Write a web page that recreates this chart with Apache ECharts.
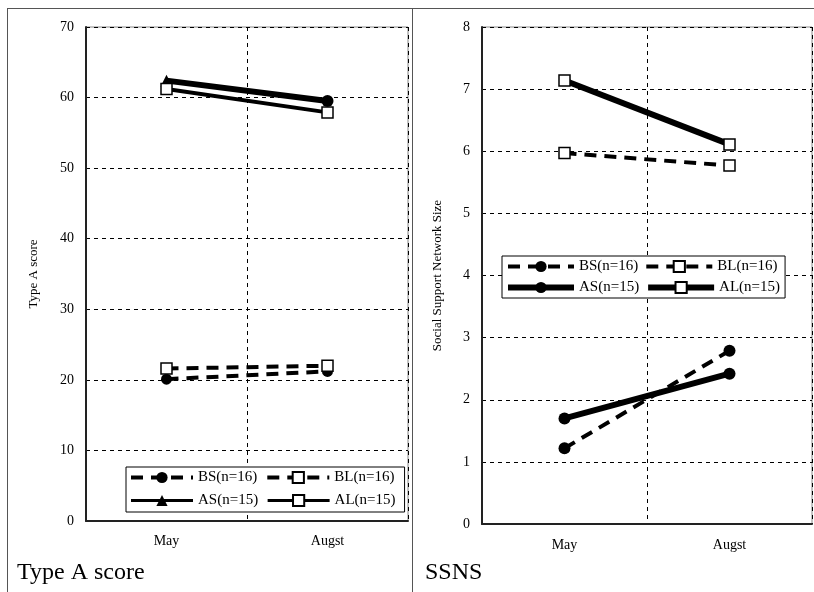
<!DOCTYPE html>
<html>
<head>
<meta charset="utf-8">
<script src="https://cdn.jsdelivr.net/npm/echarts@6/dist/echarts.min.js"></script>
<style>
  html, body { margin: 0; padding: 0; background: #fff; }
  #wrap { position: relative; width: 814px; height: 592px; overflow: hidden; }
  #left { position: absolute; left: 0; top: 0; width: 412px; height: 592px; }
  #right { position: absolute; left: 412px; top: 0; width: 402px; height: 592px; }
  .frame { position: absolute; pointer-events: none; border-color: #555; border-style: solid; border-width: 0; }
</style>
</head>
<body>
<div id="wrap">
  <div id="left"></div>
  <div id="right"></div>
  <div class="frame" style="left:7px; top:8px; width:807px; height:590px; border-left-width:1px; border-top-width:1px;"></div>
  <div class="frame" style="left:412px; top:8px; width:0; height:590px; border-left-width:1px;"></div>
</div>
<script>
// Measurement months
const months = ['May', 'Augst'];

// Type A score means per group
const typeA_BS = [20.1, 21.2];
const typeA_BL = [21.6, 22.0];
const typeA_AS = [62.4, 59.5];
const typeA_AL = [61.2, 57.9];

// Social Support Network Size means per group
const ssns_BS = [1.22, 2.79];
const ssns_BL = [5.97, 5.77];
const ssns_AS = [1.70, 2.42];
const ssns_AL = [7.14, 6.11];

const groupNames = ['BS(n=16)', 'BL(n=16)', 'AS(n=15)', 'AL(n=15)'];

const FONT = '"Liberation Serif", "DejaVu Serif", serif';
const gridDash = [4, 4];

function makeSeries(name, data, opts) {
  return {
    name: name,
    type: 'line',
    data: data,
    symbol: opts.symbol,
    symbolSize: opts.symbolSize,
    showSymbol: true,
    z: opts.z || 3,
    animation: false,
    lineStyle: { color: '#000', width: opts.width, type: opts.dash ? [12, 8] : 'solid' },
    itemStyle: opts.hollow
      ? { color: '#fff', borderColor: '#000', borderWidth: 1.5 }
      : { color: '#000', borderColor: '#000', borderWidth: 0 },
    emphasis: { disabled: true }
  };
}

function baseOption(cfg) {
  return {
    animation: false,
    textStyle: { fontFamily: FONT, color: '#000' },
    title: {
      text: cfg.title,
      left: cfg.titleLeft,
      top: 556,
      textStyle: { fontFamily: FONT, fontSize: 24, fontWeight: 'normal', color: '#000' }
    },
    grid: {
      left: cfg.grid[0], top: cfg.grid[1], right: cfg.grid[2], bottom: cfg.grid[3],
      show: true, borderColor: '#888', borderWidth: 1, backgroundColor: '#fff'
    },
    legend: {
      data: cfg.legend.data,
      left: cfg.legend.left,
      top: cfg.legend.top,
      width: cfg.legend.width,
      orient: 'horizontal',
      itemWidth: cfg.legend.itemWidth,
      itemHeight: 14,
      itemGap: cfg.legend.itemGap,
      padding: cfg.legend.padding,
      borderColor: '#000',
      borderWidth: 1,
      backgroundColor: '#fff',
      selectedMode: false,
      lineStyle: { width: 'inherit', type: 'inherit' },
      textStyle: { fontFamily: FONT, fontSize: 15, color: '#000' }
    },
    xAxis: {
      type: 'category',
      data: months,
      boundaryGap: true,
      axisLine: { lineStyle: { color: '#222', width: 2 } },
      axisTick: { show: false },
      axisLabel: { fontFamily: FONT, fontSize: 14, color: '#000', margin: cfg.xMargin },
      splitLine: { show: true, lineStyle: { color: '#000', type: gridDash, width: 1 } }
    },
    yAxis: {
      type: 'value',
      min: 0,
      max: cfg.yMax,
      interval: cfg.yInterval,
      name: cfg.yName,
      nameLocation: 'middle',
      nameGap: cfg.nameGap,
      nameTextStyle: { fontFamily: FONT, fontSize: 13, color: '#000' },
      axisLine: { show: true, lineStyle: { color: '#222', width: 2 } },
      axisTick: { show: false },
      axisLabel: { fontFamily: FONT, fontSize: 14, color: '#000', margin: 12 },
      splitLine: { show: true, lineStyle: { color: '#000', type: gridDash, width: 1 } }
    },
    series: cfg.series
  };
}

// Left panel: Type A score
const leftChart = echarts.init(document.getElementById('left'), null, { renderer: 'canvas' });
leftChart.setOption(baseOption({
  title: 'Type A score',
  titleLeft: 12,
  grid: [86, 27, 4, 71],
  yMax: 70, yInterval: 10,
  yName: 'Type A score', nameGap: 46,
  xMargin: 13,
  legend: {
    left: 126, top: 467, width: 300, itemWidth: 62, itemGap: 8, padding: [3, 9, 4, 3],
    data: [
      { name: groupNames[0] },
      { name: groupNames[1] },
      { name: groupNames[2], lineStyle: { width: 3 } },
      { name: groupNames[3], lineStyle: { width: 3 } }
    ]
  },
  series: [
    makeSeries(groupNames[0], typeA_BS, { symbol: 'circle', symbolSize: 11, width: 4, dash: true }),
    makeSeries(groupNames[1], typeA_BL, { symbol: 'rect', symbolSize: 11, width: 4, dash: true, hollow: true, z: 4 }),
    makeSeries(groupNames[2], [typeA_AS[0], { value: typeA_AS[1], symbol: 'circle' }], { symbol: 'triangle', symbolSize: 12, width: 6 }),
    makeSeries(groupNames[3], typeA_AL, { symbol: 'rect', symbolSize: 11, width: 4, hollow: true, z: 4 })
  ]
}));

// Right panel: SSNS
const rightChart = echarts.init(document.getElementById('right'), null, { renderer: 'canvas' });
rightChart.setOption(baseOption({
  title: 'SSNS',
  titleLeft: 8,
  grid: [70, 27, 2, 68],
  yMax: 8, yInterval: 1,
  yName: 'Social Support Network Size', nameGap: 38,
  xMargin: 14,
  legend: {
    left: 90, top: 256, width: 300, itemWidth: 66, itemGap: 6, padding: [3, 5, 3, 3],
    data: groupNames.map(function (n) { return { name: n }; })
  },
  series: [
    makeSeries(groupNames[0], ssns_BS, { symbol: 'circle', symbolSize: 12, width: 4, dash: true }),
    makeSeries(groupNames[1], ssns_BL, { symbol: 'rect', symbolSize: 11, width: 4, dash: true, hollow: true, z: 4 }),
    makeSeries(groupNames[2], ssns_AS, { symbol: 'circle', symbolSize: 12, width: 6 }),
    makeSeries(groupNames[3], ssns_AL, { symbol: 'rect', symbolSize: 11, width: 6, hollow: true, z: 4 })
  ]
}));
</script>
</body>
</html>
